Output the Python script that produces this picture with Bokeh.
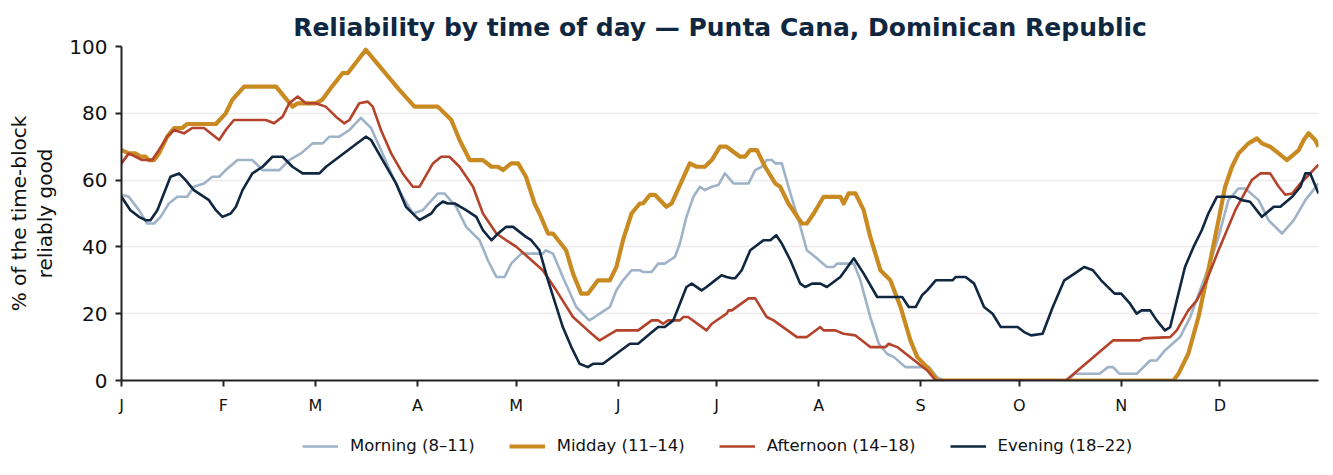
from bokeh.plotting import figure
from bokeh.layouts import column
from bokeh.models import Range1d, FixedTicker, Legend, LegendItem
from bokeh.embed import file_html
from bokeh.resources import INLINE

# ---- data (day of year, 0 = Jan 1) ----
month_starts = [0, 31, 59, 90, 120, 151, 181, 212, 243, 273, 304, 334]
month_labels = ["J", "F", "M", "A", "M", "J", "J", "A", "S", "O", "N", "D"]

morning_day = [0, 2.2, 5.3, 7.8, 9.9, 11.9, 14.4, 17, 20, 22, 25.1, 27.6, 29.7, 31.7, 35.3, 39.8, 42.9, 48,
               51, 54.6, 58.1, 61.2, 63.2, 66.2, 69.3, 72.8, 75.9, 78.9, 82.5, 85.5, 88.6, 91.6, 96.2, 98.2,
               101.8, 104.8, 108.9, 111.4, 114, 116.5, 118.5, 121.6, 128.1, 129, 131.2, 134.2, 138.3, 142.2,
               143.9, 146.9, 148.5, 150.5, 152.5, 155.1, 157.6, 158.6, 161.2, 163.2, 165.2, 166.7, 168.3, 169.8,
               171.8, 173.9, 175.9, 177.4, 179.5, 181.5, 183.5, 186.1, 190.7, 192.7, 194.7, 196.2, 197.8, 198.8,
               200.8, 203.4, 205.9, 208.4, 211, 214.5, 216.6, 217.6, 222.7, 224.7, 227.7, 230.3, 232.8, 234.9,
               238.4, 242, 245.6, 248, 250, 287.7, 289.8, 297.4, 300, 301.5, 303.5, 308.7, 312.8, 314.8, 317.3,
               321.9, 325, 328, 331, 333.6, 336.6, 339.7, 341.7, 345.8, 348.8, 352.9, 356.5, 360, 364]
morning_val = [55.6, 55, 51, 47, 47, 49, 53, 55, 55, 58, 59, 61, 61, 63, 66, 66, 63, 63,
               66, 68, 71, 71, 73, 73, 75, 78.6, 75.6, 69, 61, 55, 50, 51, 56, 56,
               52, 46, 42, 36, 31, 31, 35, 38, 38, 39, 38, 31, 22, 18,
               19, 21, 22, 27, 30, 33, 33, 32.5, 32.5, 35, 35, 36, 37, 41,
               49, 55, 58, 57, 58, 58.5, 62, 59, 59, 63, 64, 66, 66, 65,
               65, 56, 48, 39, 37, 34, 34, 35, 35, 30, 19, 11, 8, 7,
               4, 4, 4, 1, 0, 0, 2, 2, 4, 4, 2, 2, 6, 6, 9,
               13, 19, 27, 35, 43, 54, 57.5, 57.5, 54, 48, 44, 48, 54, 59]

midday_day = [0, 2.2, 4.3, 5.8, 7.3, 8.3, 9.9, 11.4, 13.9, 16, 18.5, 20, 28.7, 31.7, 33.7, 37.3, 47, 52,
              53.6, 59, 61, 64, 67.2, 68.8, 74.3, 79.4, 84.5, 89.1, 96.2, 100.3, 102.8, 105.9, 109.9, 112.5,
              114.5, 116, 118.5, 120.6, 123, 125.6, 127.1, 129.7, 131.2, 135.2, 137.3, 139.8, 141.8, 144.9,
              148.5, 150.5, 152.5, 155.1, 157.6, 158.6, 160.7, 162.2, 165.7, 167.3, 172.8, 174.9, 177.4, 179.5,
              182, 184, 188.1, 189.6, 191.2, 193.2, 195.7, 198.8, 200.3, 202.8, 206.9, 208.4, 210.5, 213.5,
              218.6, 219.6, 221.1, 223.2, 225.7, 227.7, 230.8, 233.8, 236.9, 239.9, 242, 245, 248.1, 319.9,
              321.4, 324.4, 327.5, 330.5, 333.6, 335.6, 337.7, 339.7, 342.7, 345.3, 346.8, 349.3, 351.9, 354.4,
              358, 359.5, 361, 363, 364]
midday_val = [69, 68, 68, 67, 67, 66, 66, 68, 73, 75.6, 75.6, 76.8, 76.8, 80, 84, 88, 88, 82,
              83, 83, 84, 88, 92, 92, 99, 93, 87, 82, 82, 78, 72, 66, 66, 64,
              64, 63, 65, 65, 61, 53, 50, 44, 44, 39, 32, 26, 26, 30,
              30, 34, 42, 50, 53, 53, 55.6, 55.6, 52, 53, 65, 64, 64, 66,
              70, 70, 67, 67, 69, 69, 64, 59, 58, 53, 47, 47, 50, 55,
              55, 53, 56, 56, 51, 43, 33, 30, 22, 12, 7, 4, 0, 0,
              2, 8, 19, 33, 48, 58, 64, 68, 71, 72.5, 71, 70, 68, 66,
              69, 72, 74, 72, 70]

afternoon_day = [0, 2.2, 4.3, 6.3, 9.3, 11.4, 13.9, 16, 19, 21.5, 25.1, 29.7, 31.7, 34.2, 43.9, 46.4, 49, 51,
                 53.6, 56.1, 59, 62.1, 65.2, 67.7, 69.3, 72.3, 74.9, 76.4, 78.9, 82, 85.5, 88.6, 90.6, 94.7,
                 97.2, 99.7, 102.8, 106.9, 109.9, 114, 117, 120.1, 128.1, 132.2, 137.3, 141.8, 145.4, 150.5,
                 157.1, 161.2, 163.2, 164.7, 166.2, 169.8, 170.8, 172.3, 177.9, 179.5, 184, 184.6, 185.6, 190.7,
                 192.7, 196.2, 198.3, 205.4, 208.4, 212.5, 213.5, 217.1, 219.6, 223.2, 227.7, 232.3, 233.3,
                 235.9, 245, 247.6, 287.2, 301.5, 309.7, 310.7, 318.9, 320.9, 324.4, 327, 330, 333.6, 338.7,
                 343.7, 346.3, 349.3, 351.9, 353.9, 356, 358.5, 360.5, 364]
afternoon_val = [65, 68, 67, 66, 66, 69, 73, 75, 74, 75.6, 75.6, 72, 75, 78, 78, 77, 79, 83,
                 85, 83, 83, 82, 79, 77, 78, 83, 83.5, 82, 75, 68, 62, 58, 58, 65,
                 67, 67, 64, 58, 50, 44, 42, 40, 33, 27, 19, 15, 12, 15,
                 15, 18, 18, 17, 18, 18, 19, 19, 15, 17, 20, 21, 21, 24.6,
                 24.6, 19, 18, 13, 13, 16, 15, 15, 14, 13.5, 10, 10, 11,
                 10, 3, 0, 0, 12, 12, 12.6, 13, 15, 21, 24, 30, 39, 51,
                 60, 62, 62, 58, 55.6, 56, 59, 61, 64.6]

evening_day = [0, 2.7, 5.3, 7.3, 8.8, 10.9, 12.9, 14.9, 17.5, 19.5, 22, 25.1, 26.6, 28.7, 30.7, 33.2, 34.8,
               36.8, 39.8, 42.9, 45.9, 49, 52, 55.1, 60.2, 62.2, 74.3, 75.9, 79.4, 83.5, 86.5, 90.6, 94.2,
               95.7, 97.7, 99.2, 101.3, 104.8, 107.9, 109.9, 112.5, 114.5, 117, 119.1, 123, 124.6, 127.1,
               129.7, 134.2, 136.8, 139.3, 141.8, 143.4, 146.4, 150.5, 154.6, 157.1, 160.7, 163.2, 165.2,
               167.8, 169.8, 171.8, 173.4, 176.4, 177.9, 180, 182.5, 184, 185.6, 186.6, 188.6, 191.2, 195.2,
               197.3, 199.1, 200.8, 203.4, 206.4, 207.9, 210, 212.5, 214.5, 218.6, 222.7, 225.7, 229.8, 237.4,
               239.4, 241.5, 243.5, 245, 247.6, 252.7, 253.7, 256.7, 259.3, 262.3, 264.9, 267.4, 272.5, 274.5,
               276.6, 280.1, 283.2, 286.7, 289.8, 292.8, 295.4, 297.9, 302, 304, 306.7, 308.7, 310.2, 312.8,
               314.8, 317.3, 318.9, 320.9, 323.4, 326, 328.5, 330.5, 333.1, 334.6, 338.7, 340.7, 343.2, 346.8,
               350.4, 352.4, 356, 358.5, 360, 361.5, 364]
evening_val = [55, 51, 49, 48, 48, 51, 56, 61, 62, 60, 57, 55, 54, 51, 49, 50, 52,
               57, 62, 64, 67, 67, 64, 62, 62, 64, 73, 72, 66, 59, 52, 48, 50,
               52, 53.6, 53, 53, 51, 49, 45, 42, 44, 46, 46, 43, 42, 39,
               30, 16, 10, 5, 4, 5, 5, 8, 11, 11, 14, 16, 16,
               18, 23, 28, 29, 27, 28, 29.6, 31.5, 31, 30.6, 30.6, 33, 39, 42,
               42, 43.5, 41, 36, 29, 28, 29, 29, 28, 31, 36.6, 32, 25, 25,
               22, 22, 25.6, 27, 30, 30, 31, 31, 29, 22, 20, 16, 16, 14.5,
               13.5, 14, 22, 30, 32, 34, 33, 30, 26, 26, 23, 20, 21, 21,
               18, 15, 16, 24, 34, 40, 45, 50, 55, 55, 55, 54, 53.5, 49,
               52, 52, 55, 58, 62, 62, 56]

series = [
    ("Morning (8\u201311)", morning_day, morning_val, "#9fb3c8", 2.6),
    ("Midday (11\u201314)", midday_day, midday_val, "#c98a22", 4.2),
    ("Afternoon (14\u201318)", afternoon_day, afternoon_val, "#b4432b", 2.6),
    ("Evening (18\u201322)", evening_day, evening_val, "#0f2740", 2.6),
]

FONT = "DejaVu Sans"

p = figure(width=1333, height=420, output_backend="svg", toolbar_location=None,
           x_range=Range1d(0, 364), y_range=Range1d(0, 100),
           min_border_left=121, min_border_right=15, min_border_top=46, min_border_bottom=40)

p.title.text = "Reliability by time of day \u2014 Punta Cana, Dominican Republic"
p.title.text_font = FONT
p.title.text_font_size = "25px"
p.title.text_font_style = "bold"
p.title.text_color = "#0f2740"
p.title.align = "center"

p.outline_line_color = None
p.background_fill_color = "white"
p.border_fill_color = "white"

p.xgrid.grid_line_color = None
p.ygrid.grid_line_color = "#ececec"
p.ygrid.grid_line_width = 1.5

p.xaxis.ticker = FixedTicker(ticks=month_starts)
p.xaxis.major_label_overrides = {m: l for m, l in zip(month_starts, month_labels)}
p.yaxis.ticker = FixedTicker(ticks=[0, 20, 40, 60, 80, 100])

for ax in (p.xaxis[0], p.yaxis[0]):
    ax.axis_line_color = "#222222"
    ax.axis_line_width = 2
    ax.major_tick_line_color = "#222222"
    ax.major_tick_line_width = 2
    ax.major_tick_in = 0
    ax.major_tick_out = 6
    ax.minor_tick_line_color = None
    ax.major_label_text_font = FONT
    ax.major_label_text_color = "#111111"

p.xaxis.major_label_text_font_size = "16px"
p.xaxis.major_label_standoff = 9
p.yaxis.major_label_text_font_size = "20px"
p.yaxis.major_label_standoff = 8
p.yaxis.axis_label = "% of the time-block\nreliably good"
p.yaxis.axis_label_text_font = FONT
p.yaxis.axis_label_text_font_size = "20px"
p.yaxis.axis_label_text_font_style = "normal"
p.yaxis.axis_label_text_color = "#111111"
p.yaxis.axis_label_standoff = 9
p.yaxis.axis_label_text_line_height = 1.1

for name, d, v, c, w in series:
    p.line(d, v, line_color=c, line_width=w, line_join="round")

# legend strip below the chart (its frame is aligned with the chart frame by the column layout)
lg = figure(width=1333, height=55, output_backend="svg", toolbar_location=None,
            x_range=Range1d(0, 1), y_range=Range1d(0, 1),
            min_border_left=121, min_border_right=15, min_border_top=0, min_border_bottom=0)
lg.axis.visible = False
lg.grid.grid_line_color = None
lg.outline_line_color = None
items = []
for name, d, v, c, w in series:
    r = lg.line([-10, -9], [-10, -9], line_color=c, line_width=w)
    items.append(LegendItem(label=name, renderers=[r]))

legend = Legend(items=items, orientation="horizontal", location=(181, 20),
                label_text_font=FONT, label_text_font_size="16.5px", label_text_color="#111111",
                glyph_width=36, glyph_height=16, label_standoff=12, spacing=34,
                border_line_color=None, background_fill_alpha=0, margin=0, padding=4)
lg.add_layout(legend, "center")

layout = column(p, lg, spacing=0)
open("out.html", "w").write(file_html(layout, INLINE))
